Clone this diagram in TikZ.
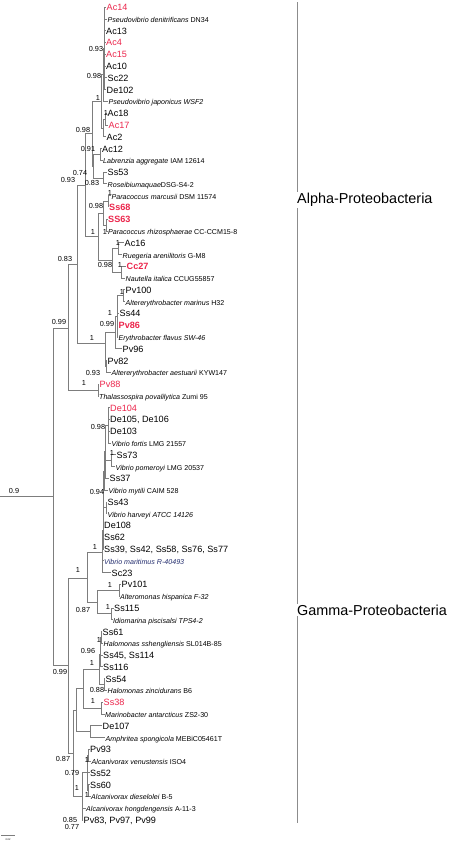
\documentclass[tikz,border=0pt]{standalone}
\usepackage{fontspec}
\setmainfont{Liberation Sans}
\usetikzlibrary{positioning}
\definecolor{hitred}{RGB}{236,38,76}
\definecolor{treegray}{RGB}{125,125,125}
\definecolor{navy}{RGB}{35,45,110}

\begin{document}
\begin{tikzpicture}[
    x=1pt, y=-1pt,
    iso/.style={anchor=west, inner sep=0.5pt, text height=0.72em, text depth=0pt, font=\fontsize{9.1}{10}\selectfont},
    hit/.style={iso, text=hitred},
    hitb/.style={iso, text=hitred, font=\fontsize{9.1}{10}\selectfont\bfseries},
    ref/.style={anchor=west, inner sep=0.5pt, text height=0.72em, text depth=0pt, font=\fontsize{7.1}{8}\selectfont},
    bs/.style={inner sep=0pt, font=\fontsize{7.3}{8}\selectfont},
    branch/.style={draw=treegray, line width=0.6pt},
    clade/.style={anchor=west, fill=white, inner sep=1pt, font=\fontsize{14.4}{16}\selectfont}
  ]
    \useasboundingbox[fill=white] (0,0) rectangle (454,844);

    % leaves, Alpha
    \node[hit] (ac14) at (106,7) {Ac14};
    \node[ref] (dn34) at (107,18.8) {\textit{Pseudovibrio denitrificans} DN34};
    \node[iso] (ac13) at (105.5,30.6) {Ac13};
    \node[hit] (ac4) at (105.5,42.3) {Ac4};
    \node[hit] (ac15) at (105.5,54.1) {Ac15};
    \node[iso] (ac10) at (105.5,65.9) {Ac10};
    \node[iso] (sc22) at (107,77.7) {Sc22};
    \node[iso] (de102) at (106,89.5) {De102};
    \node[ref] (wsf2) at (108,101.2) {\textit{Pseudovibrio japonicus WSF2}};
    \node[iso] (ac18) at (107,113) {Ac18};
    \node[hit] (ac17) at (108,124.8) {Ac17};
    \node[iso] (ac2) at (106,136.6) {Ac2};
    \node[iso] (ac12) at (101.5,148.4) {Ac12};
    \node[ref] (iam) at (102.5,160.1) {\textit{Labrenzia aggregate} IAM 12614};
    \node[iso] (ss53) at (107,171.9) {Ss53};
    \node[ref] (dsg) at (107,183.7) {\textit{Roseibiumaquae}DSG-S4-2};
    \node[ref] (dsm) at (111,195.5) {\textit{Paracoccus marcusii} DSM 11574};
    \node[hitb] (ss68) at (108.5,207.3) {Ss68};
    \node[hitb] (ss63) at (107.5,219) {SS63};
    \node[ref] (ccm) at (107.5,230.8) {\textit{Paracoccus rhizosphaerae} CC-CCM15-8};
    \node[iso] (ac16) at (124,242.6) {Ac16};
    \node[ref] (gm8) at (122,254.4) {\textit{Ruegeria arenilitoris} G-M8};
    \node[hitb] (cc27) at (126,266.2) {Cc27};
    \node[ref] (ccug) at (125,277.9) {\textit{Nautella italica} CCUG55857};
    \node[iso] (pv100) at (125,289.7) {Pv100};
    \node[ref] (h32) at (125,301.5) {\textit{Altererythrobacter marinus} H32};
    \node[iso] (ss44) at (119,313.3) {Ss44};
    \node[hitb] (pv86) at (118,325.1) {Pv86};
    \node[ref] (sw46) at (118,336.9) {\textit{Erythrobacter flavus SW-46}};
    \node[iso] (pv96) at (122,348.6) {Pv96};
    \node[iso] (pv82) at (107,360.4) {Pv82};
    \node[ref] (kyw) at (111,372.2) {\textit{Altererythrobacter aestuarii} KYW147};
    \node[hit] (pv88) at (99,384) {Pv88};
    \node[ref] (zumi) at (98.5,395.8) {\textit{Thalassospira povalilytica} Zumi 95};

    % leaves, Gamma
    \node[hit] (de104) at (109.5,407.5) {De104};
    \node[iso] (de105) at (109.5,419.3) {De105, De106};
    \node[iso] (de103) at (109.5,431.1) {De103};
    \node[ref] (lmga) at (111,442.9) {\textit{Vibrio fortis} LMG 21557};
    \node[iso] (ss73) at (116,454.7) {Ss73};
    \node[ref] (lmgb) at (115,466.4) {\textit{Vibrio pomeroyi} LMG 20537};
    \node[iso] (ss37) at (109,478.2) {Ss37};
    \node[ref] (caim) at (108,490) {\textit{Vibrio mytili} CAIM 528};
    \node[iso] (ss43) at (107,501.8) {Ss43};
    \node[ref] (atcc) at (107,513.6) {\textit{Vibrio harveyi ATCC 14126}};
    \node[iso] (de108) at (103.5,525.3) {De108};
    \node[iso] (ss62) at (103.5,537.1) {Ss62};
    \node[iso] (ss39) at (103.5,548.9) {Ss39, Ss42, Ss58, Ss76, Ss77};
    \node[ref, text=navy] (r404) at (103.5,560.7) {\textit{Vibrio maritimus R-40493}};
    \node[iso] (sc23) at (111,572.5) {Sc23};
    \node[iso] (pv101) at (121,584.2) {Pv101};
    \node[ref] (f32) at (119.5,596) {\textit{Alteromonas hispanica F-32}};
    \node[iso] (ss115) at (113.5,607.8) {Ss115};
    \node[ref] (tps) at (112.5,619.6) {\textit{Idiomarina piscisalsi TPS4-2}};
    \node[iso] (ss61) at (102,631.4) {Ss61};
    \node[ref] (sl014) at (103,643.1) {\textit{Halomonas sshengliensis} SL014B-85};
    \node[iso] (ss45) at (102.5,654.9) {Ss45, Ss114};
    \node[iso] (ss116) at (102.5,666.7) {Ss116};
    \node[iso] (ss54) at (105,678.5) {Ss54};
    \node[ref] (b6) at (107,690.3) {\textit{Halomonas zincidurans} B6};
    \node[hit] (ss38) at (103,702) {Ss38};
    \node[ref] (zs2) at (104.5,713.8) {\textit{Marinobacter antarcticus} ZS2-30};
    \node[iso] (de107) at (102,725.6) {De107};
    \node[ref] (mebic) at (105,737.4) {\textit{Amphritea spongicola} MEBiC05461T};
    \node[iso] (pv93) at (89.5,749.2) {Pv93};
    \node[ref] (iso4) at (91,760.9) {\textit{Alcanivorax venustensis} ISO4};
    \node[iso] (ss52) at (89.5,772.7) {Ss52};
    \node[iso] (ss60) at (89.5,784.5) {Ss60};
    \node[ref] (b5) at (90.5,796.3) {\textit{Alcanivorax dieselolei} B-5};
    \node[ref] (a11) at (85.5,808.1) {\textit{Alcanivorax hongdengensis} A-11-3};
    \node[iso] (pv83) at (83,819.8) {Pv83, Pv97, Pv99};

    % internal nodes, Alpha
    \coordinate (p1) at (104.5,48.2);
    \coordinate (py) at (103.5,74.7);
    \coordinate (pk) at (105,118.9);
    \coordinate (pk2) at (103,127.8);
    \coordinate (px) at (101.5,101.3);
    \coordinate (lab) at (100,154.3);
    \coordinate (ros) at (103,177.8);
    \coordinate (lr) at (93,166);
    \coordinate (pc) at (92,133.7);
    \coordinate (pa1) at (108.5,201.4);
    \coordinate (pa2) at (106.5,224.9);
    \coordinate (pa) at (103,213);
    \coordinate (ru1) at (118,248.5);
    \coordinate (ru2) at (121,272);
    \coordinate (ru) at (112,260);
    \coordinate (rh) at (98,236);
    \coordinate (pb) at (85,185);
    \coordinate (er2) at (123,295.6);
    \coordinate (er1) at (117,316);
    \coordinate (er0) at (115.5,332);
    \coordinate (ae) at (106,366.3);
    \coordinate (ery) at (105,343);
    \coordinate (a1) at (77,264);
    \coordinate (tha) at (98,390);
    \coordinate (alpha) at (68,328);

    % internal nodes, Gamma
    \coordinate (dn) at (108.5,425.2);
    \coordinate (s73) at (111,460.5);
    \coordinate (v3) at (105,451.7);
    \coordinate (v2) at (104,470.9);
    \coordinate (hv) at (106,507.7);
    \coordinate (v1) at (103,530);
    \coordinate (vib) at (102,552);
    \coordinate (alt) at (119,590.1);
    \coordinate (idi) at (111.5,613.7);
    \coordinate (ai) at (97,602);
    \coordinate (g1) at (87,578);
    \coordinate (h1) at (101,637.3);
    \coordinate (h2) at (100.5,654);
    \coordinate (h3) at (104,684.4);
    \coordinate (hal) at (99.5,669);
    \coordinate (mar) at (101,708);
    \coordinate (hm) at (83,688);
    \coordinate (da) at (90,731.5);
    \coordinate (hmd) at (76,710);
    \coordinate (al1) at (88.5,755);
    \coordinate (al2) at (88.5,790.4);
    \coordinate (al3) at (87,772.7);
    \coordinate (alc) at (82,796);
    \coordinate (g2) at (73,753);
    \coordinate (gamma) at (68,665);
    \coordinate (root) at (53,496.5);
    \coordinate (r0) at (0,496.5);

    % branches, Alpha
    \draw[branch] (p1) |- (ac14.west) (p1) |- (dn34.west) (p1) |- (ac13.west) (p1) |- (ac4.west)
      (p1) |- (ac15.west) (p1) |- (ac10.west) (p1) |- (sc22.west) (p1) |- (de102.west);
    \draw[branch] (py) |- (p1) (py) |- (wsf2.west);
    \draw[branch] (pk) |- (ac18.west) (pk) |- (ac17.west);
    \draw[branch] (pk2) |- (pk) (pk2) |- (ac2.west);
    \draw[branch] (px) |- (py) (px) |- (pk2);
    \draw[branch] (lab) |- (ac12.west) (lab) |- (iam.west);
    \draw[branch] (ros) |- (ss53.west) (ros) |- (dsg.west);
    \draw[branch] (lr) |- (lab) (lr) |- (ros);
    \draw[branch] (pc) |- (px) (pc) |- (lr);
    \draw[branch] (pa1) |- (dsm.west) (pa1) |- (ss68.west);
    \draw[branch] (pa2) |- (ss63.west) (pa2) |- (ccm.west);
    \draw[branch] (pa) |- (pa1) (pa) |- (pa2);
    \draw[branch] (ru1) |- (ac16.west) (ru1) |- (gm8.west);
    \draw[branch] (ru2) |- (cc27.west) (ru2) |- (ccug.west);
    \draw[branch] (ru) |- (ru1) (ru) |- (ru2);
    \draw[branch] (rh) |- (pa) (rh) |- (ru);
    \draw[branch] (pb) |- (pc) (pb) |- (rh);
    \draw[branch] (er2) |- (pv100.west) (er2) |- (h32.west);
    \draw[branch] (er1) |- (er2) (er1) |- (ss44.west) (er1) |- (pv86.west) (er1) |- (sw46.west);
    \draw[branch] (er0) |- (er1) (er0) |- (pv96.west);
    \draw[branch] (ae) |- (pv82.west) (ae) |- (kyw.west);
    \draw[branch] (ery) |- (er0) (ery) |- (ae);
    \draw[branch] (a1) |- (pb) (a1) |- (ery);
    \draw[branch] (tha) |- (pv88.west) (tha) |- (zumi.west);
    \draw[branch] (alpha) |- (a1) (alpha) |- (tha);

    % branches, Gamma
    \draw[branch] (dn) |- (de104.west) (dn) |- (de105.west) (dn) |- (de103.west) (dn) |- (lmga.west);
    \draw[branch] (s73) |- (ss73.west) (s73) |- (lmgb.west);
    \draw[branch] (v3) |- (dn) (v3) |- (s73) (v3) |- (ss37.west);
    \draw[branch] (v2) |- (v3) (v2) |- (caim.west);
    \draw[branch] (hv) |- (ss43.west) (hv) |- (atcc.west);
    \draw[branch] (v1) |- (v2) (v1) |- (hv) (v1) |- (de108.west) (v1) |- (ss62.west) (v1) |- (ss39.west);
    \draw[branch] (vib) |- (v1) (vib) |- (r404.west) (vib) |- (sc23.west);
    \draw[branch] (alt) |- (pv101.west) (alt) |- (f32.west);
    \draw[branch] (idi) |- (ss115.west) (idi) |- (tps.west);
    \draw[branch] (ai) |- (alt) (ai) |- (idi);
    \draw[branch] (g1) |- (vib) (g1) |- (ai);
    \draw[branch] (h1) |- (ss61.west) (h1) |- (sl014.west);
    \draw[branch] (h2) |- (h1) (h2) |- (ss45.west) (h2) |- (ss116.west);
    \draw[branch] (h3) |- (ss54.west) (h3) |- (b6.west);
    \draw[branch] (hal) |- (h2) (hal) |- (h3);
    \draw[branch] (mar) |- (ss38.west) (mar) |- (zs2.west);
    \draw[branch] (hm) |- (hal) (hm) |- (mar);
    \draw[branch] (da) |- (de107.west) (da) |- (mebic.west);
    \draw[branch] (hmd) |- (hm) (hmd) |- (da);
    \draw[branch] (al1) |- (pv93.west) (al1) |- (iso4.west);
    \draw[branch] (al2) |- (ss60.west) (al2) |- (b5.west);
    \draw[branch] (al3) |- (al1) (al3) |- (ss52.west) (al3) |- (al2);
    \draw[branch] (alc) |- (al3) (alc) |- (a11.west) (alc) |- (pv83.west);
    \draw[branch] (g2) |- (hmd) (g2) |- (alc);
    \draw[branch] (gamma) |- (g1) (gamma) |- (g2);
    \draw[branch] (root) |- (alpha) (root) |- (gamma);
    \draw[branch] (r0) -- (root);

    % support values
    \node[bs] (p1v) at (96,49) {0.93};
    \node[bs] (pyv) at (94,76) {0.98};
    \node[bs] (pxv) at (98,98) {1};
    \node[bs] (pkv) at (106,113) {1};
    \node[bs] (pcv) at (83,130) {0.98};
    \node[bs] (labv) at (88,149) {0.91};
    \node[bs] (lrv) at (80,173) {0.74};
    \node[bs] (pbv) at (68,180) {0.93};
    \node[bs] (rosv) at (92,183) {0.83};
    \node[bs] (pa1v) at (110,193) {1};
    \node[bs] (pav) at (96,206) {0.98};
    \node[bs] (pa2v) at (105,232) {1};
    \node[bs] (rhv) at (93,232) {1};
    \node[bs] (ru1v) at (118,243) {1};
    \node[bs] (a1v) at (65,259) {0.83};
    \node[bs] (ruv) at (105,265) {0.98};
    \node[bs] (ru2v) at (120,265) {1};
    \node[bs] (er2v) at (122,292) {1};
    \node[bs] (er1v) at (110,313) {1};
    \node[bs] (alphav) at (59,322) {0.99};
    \node[bs] (er0v) at (107,324) {0.99};
    \node[bs] (eryv) at (92,338) {1};
    \node[bs] (aev) at (93,373) {0.93};
    \node[bs] (thav) at (84,383) {1};
    \node[bs] (dnv) at (98,427) {0.98};
    \node[bs] (s73v) at (112,453) {1};
    \node[bs] (v2v) at (97,492) {0.94};
    \node[bs] (rootv) at (14,491) {0.9};
    \node[bs] (vibv) at (95,547) {1};
    \node[bs] (g1v) at (78,570) {1};
    \node[bs] (altv) at (110,585) {1};
    \node[bs] (idiv) at (108,607) {1};
    \node[bs] (aiv) at (83,610) {0.87};
    \node[bs] (h1v) at (99,640) {1};
    \node[bs] (h2v) at (88,651) {0.96};
    \node[bs] (halv) at (92,663) {1};
    \node[bs] (gammav) at (60,672) {0.99};
    \node[bs] (h3v) at (97,690) {0.88};
    \node[bs] (marv) at (93,701) {1};
    \node[bs] (g2v) at (63,759) {0.87};
    \node[bs] (al1v) at (87,760) {1};
    \node[bs] (al3v) at (72,773) {0.79};
    \node[bs] (alcv) at (77,788) {1};
    \node[bs] (al2v) at (87,795) {1};
    \node[bs] (pv83v) at (70,820) {0.85};
    \node[bs] (pv83w) at (72,827) {0.77};

    % clade bar
    \coordinate (bar0) at (297,2);
    \coordinate (bar1) at (297,823);
    \draw[draw=black!45, line width=0.9pt] (bar0) -- (bar1);
    \node[clade] (alphan) at (296,200) {Alpha-Proteobacteria};
    \node[clade] (gamman) at (296,610) {Gamma-Proteobacteria};

    % scale bar
    \coordinate (sb0) at (1,835);
    \coordinate (sb1) at (15,835);
    \draw[branch, line width=0.4pt] (sb0) -- (sb1);
    \node[inner sep=0pt, font=\fontsize{2.5}{3}\selectfont] (sbt) at (8,839.5) {0.02};
  \end{tikzpicture}
\end{document}
